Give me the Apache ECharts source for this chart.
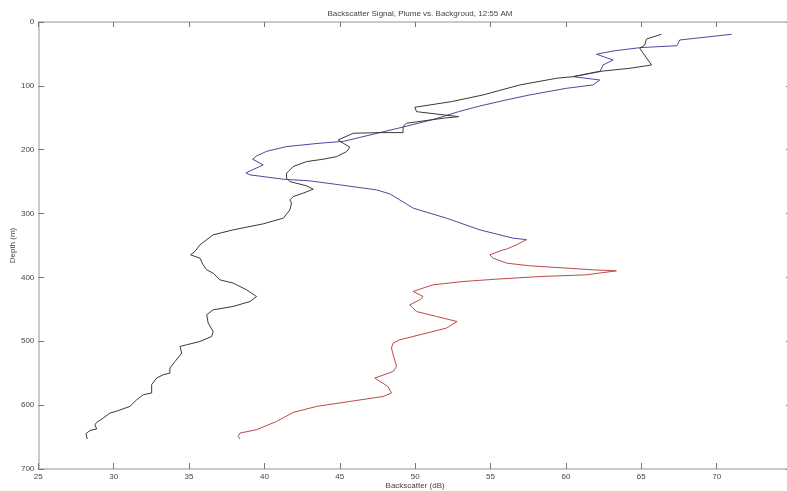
<!DOCTYPE html>
<html>
<head>
<meta charset="utf-8">
<script src="https://cdn.jsdelivr.net/npm/echarts@6/dist/echarts.min.js"></script>
<style>html,body{margin:0;padding:0;background:#fff;}#c{width:787px;height:491px;}</style>
</head>
<body>
<div id="c"></div>
<script>
// Plume profile: backscatter (dB) and depth (m)
const plumeX = [71.0,67.55,67.37,64.9,63.13,62.03,63.13,62.47,62.25,60.48,62.25,62.36,61.8,60.04,57.6,56.06,54.3,52.88,51.3,49.2,45.23,43.68,41.47,40.15,39.48,39.22,39.92,38.77,39.04,41.25,43.02,45.0,47.44,48.32,48.98,49.87,52.08,54.29,56.5,57.39,56.72,56.06,55.84,54.95,55.17,56.06,57.6,60.04,61.8,63.35,61.37,58.27,55.4,53.18,51.19,50.31,49.87,50.53,50.31,49.65,49.54,50.09,51.42,52.78,52.08,50.31,48.98,48.54,48.43,48.54,48.77,48.54,47.32,48.19,48.43,47.88,45.67,43.46,41.91,40.81,39.48,38.38,38.26,38.38];
const plumeDepth = [19.2,28.2,37.1,40.2,45.4,50.5,59.5,67.3,77.8,85.6,90.8,93.4,98.6,103.8,114.2,122,131.5,140.4,152,164.5,187,189.8,195.1,202.5,209.7,214.9,223.8,236.3,239.4,246.2,248.8,255,262.9,269.2,278.6,291.5,307.2,325.5,338.5,340.8,349,355.7,356.8,364.6,369.8,377.6,381.8,385.4,388.1,389.7,395.9,398.6,402.7,406.4,411.6,418.3,422,429.9,435,442.9,445.5,453.4,461.2,469,479.3,489.8,497.7,502.8,510.6,521,539.4,547.3,557.6,570.7,581,586.4,594.2,602,611.4,625.5,638.5,643.7,649,653];
// Background profile
const backgroundX = [66.34,65.35,65.23,64.9,65.68,64.24,62.14,60.48,59.38,56.94,54.51,52.41,49.98,50.09,51.86,52.88,51.86,49.43,49.2,49.2,47.66,45.89,44.89,45.23,45.67,45.45,44.79,43.9,42.8,41.91,41.47,41.47,41.69,42.8,43.24,42.57,41.91,41.69,41.8,41.69,41.25,39.92,37.93,36.6,35.72,35.39,35.1,35.72,35.94,36.17,36.6,37.05,37.93,38.82,39.48,39.04,37.93,36.6,36.17,36.27,36.6,36.5,35.72,34.84,34.4,34.51,34.07,33.73,33.73,33.29,32.85,32.52,32.52,31.96,31.53,31.08,30.2,29.75,29.31,28.87,28.76,28.87,28.43,28.16,28.25];
const backgroundDepth = [19.2,26.6,36,41.2,67.3,72.5,77.6,85.6,88.1,98.6,114.2,124.7,133.5,140.4,145.4,148.2,150.7,158.5,163.8,173.2,173.2,174.2,184.7,189.9,196.2,203,210.8,214.9,218.6,226.4,236.8,244.6,249.9,256.6,261.8,268,273.4,278.6,283.7,294.2,307.2,316.1,325.5,333.3,349,359.5,364.6,369.8,380.3,388.1,393.3,403.8,408.9,419.4,429.9,437.7,445.5,450.7,458.5,471.5,484.7,492.5,500.3,505.5,508.1,518.5,531.6,542,549.8,552.4,557.6,568,581,583.7,591.5,602,609.4,612.4,620.2,627.1,630.7,637.4,639.6,644.8,653];
const plumeColourChangeDepth = 340;
const xTicks = {min: 25, max: 75, interval: 5};
const yTicks = {min: 0, max: 700, interval: 100};

const plumeData = plumeX.map((v, i) => [v, plumeDepth[i]]);
const splitIdx = plumeDepth.findIndex(d => d >= plumeColourChangeDepth);
const plumeUpper = plumeData.slice(0, splitIdx + 1);
const plumeLower = plumeData.slice(splitIdx);
const bgData = backgroundX.map((v, i) => [v, backgroundDepth[i]]);

const font = 'Liberation Sans, Arial, sans-serif';
const axisLineStyle = {color: '#b8b8b8', width: 1.5};
const tickStyle = {color: '#777', width: 1};

const chart = echarts.init(document.getElementById('c'), null, {renderer: 'canvas'});
chart.setOption({
  animation: false,
  backgroundColor: '#fff',
  title: {
    text: 'Backscatter Signal, Plume vs. Backgroud, 12:55 AM',
    left: 415, top: 5, textAlign: 'center',
    textStyle: {fontFamily: font, fontSize: 8, fontWeight: 'normal', color: '#444'}
  },
  grid: {left: 38.3, right: -5, top: 22, bottom: 22, containLabel: false, outerBoundsMode: 'none'},
  xAxis: [{
    type: 'value', position: 'bottom', min: xTicks.min, max: xTicks.max, interval: xTicks.interval,
    name: 'Backscatter (dB)', nameLocation: 'middle', nameGap: 13, nameMoveOverlap: false,
    nameTextStyle: {fontFamily: font, fontSize: 8, color: '#444'},
    axisLine: {show: true, onZero: false, lineStyle: axisLineStyle},
    axisTick: {show: true, inside: true, length: 6, lineStyle: tickStyle},
    axisLabel: {fontFamily: font, fontSize: 8, color: '#444', margin: 4, showMaxLabel: false},
    splitLine: {show: false}
  }, {
    type: 'value', position: 'top', min: xTicks.min, max: xTicks.max, interval: xTicks.interval,
    axisLine: {show: true, onZero: false, lineStyle: axisLineStyle},
    axisTick: {show: true, inside: true, length: 5, lineStyle: tickStyle},
    axisLabel: {show: false}, splitLine: {show: false}
  }],
  yAxis: [{
    type: 'value', inverse: true, position: 'left', min: yTicks.min, max: yTicks.max, interval: yTicks.interval,
    name: 'Depth (m)', nameLocation: 'middle', nameGap: 22, nameRotate: 90, nameMoveOverlap: false,
    nameTextStyle: {fontFamily: font, fontSize: 8, color: '#444'},
    axisLine: {show: true, onZero: false, lineStyle: axisLineStyle},
    axisTick: {show: true, inside: true, length: 6, lineStyle: tickStyle},
    axisLabel: {fontFamily: font, fontSize: 8, color: '#444', margin: 4},
    splitLine: {show: false}
  }, {
    type: 'value', inverse: true, position: 'right', min: yTicks.min, max: yTicks.max, interval: yTicks.interval,
    axisLine: {show: true, onZero: false, lineStyle: axisLineStyle},
    axisTick: {show: true, inside: true, length: 6, lineStyle: tickStyle},
    axisLabel: {show: false}, splitLine: {show: false}
  }],
  series: [{
    name: 'Plume', type: 'line', data: plumeUpper, xAxisIndex: 0, yAxisIndex: 0,
    showSymbol: false, symbol: 'none', smooth: false,
    lineStyle: {width: 1, color: '#4a4a9c'}, itemStyle: {color: '#4a4a9c'}
  }, {
    name: 'Plume ', type: 'line', data: plumeLower, xAxisIndex: 0, yAxisIndex: 0,
    showSymbol: false, symbol: 'none', smooth: false,
    lineStyle: {width: 1, color: '#bc4a4a'}, itemStyle: {color: '#bc4a4a'}
  }, {
    name: 'Background', type: 'line', data: bgData, xAxisIndex: 0, yAxisIndex: 0,
    showSymbol: false, symbol: 'none', smooth: false,
    lineStyle: {width: 1, color: '#3a3a3a'}, itemStyle: {color: '#3a3a3a'}
  }]
});
</script>
</body>
</html>
